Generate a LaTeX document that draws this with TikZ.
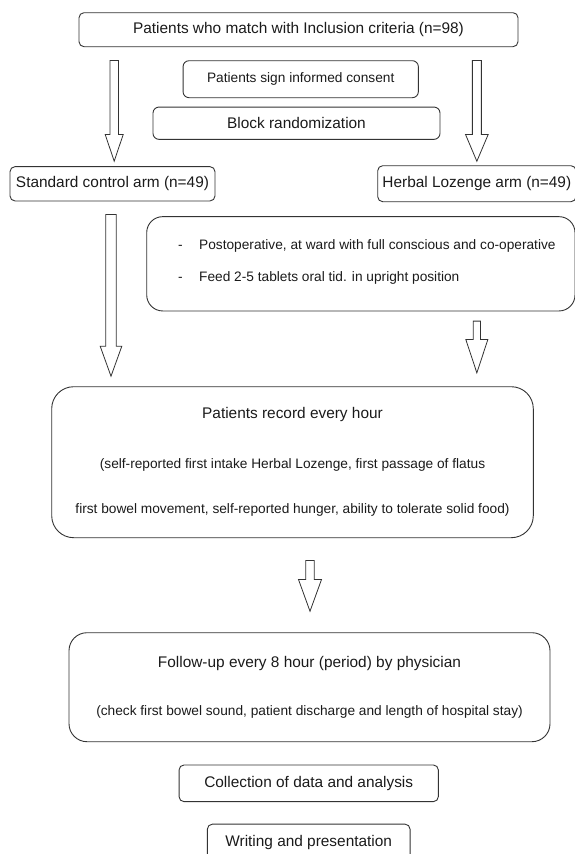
\documentclass[tikz,border=0pt]{standalone}
\usepackage{fontspec}
\setmainfont{Liberation Sans}
\usetikzlibrary{calc,positioning}

\newcommand{\bigsz}{\fontsize{15.4}{18}\selectfont}
\newcommand{\smallsz}{\fontsize{13.7}{16}\selectfont}
\definecolor{linegray}{HTML}{333333}
\definecolor{textgray}{HTML}{1A1A1A}

% hollow block arrow: start, tip, shaft half width, head half width, head length
\newcommand{\fatarrow}[5]{%
  \draw[fatline] ($(#1)+(-#3,0)$) -- ($(#2)+(-#3,-#5)$) -- ($(#2)+(-#4,-#5)$)
    -- (#2) -- ($(#2)+(#4,-#5)$) -- ($(#2)+(#3,-#5)$) -- ($(#1)+(#3,0)$) -- cycle;}

\tikzset{
  box/.style={draw=linegray, line width=0.9pt, rounded corners=5pt, inner sep=0pt,
    text=textgray, font=\bigsz},
  bigbox/.style={box, rounded corners=18pt, align=center},
  fatline/.style={draw=linegray, line width=0.8pt, fill=white, line join=miter}
}

\begin{document}
\begin{tikzpicture}[x=1pt, y=-1pt]
    \useasboundingbox (0,0) rectangle (575,854);

    \node[box, minimum width=439pt, minimum height=34pt] (top) at (298.5,29.7)
        {Patients who match with Inclusion criteria (n=98)};
    \node[box, font=\smallsz, minimum width=235.3pt, minimum height=37pt,
        rounded corners=6pt] (consent) at (300.7,79.2) {Patients sign informed consent};
    \node[box, minimum width=287pt, minimum height=32.3pt, rounded corners=6pt]
        (block) at (296.5,123.2) {Block randomization};

    % two arms
    \node[box, minimum width=205pt, minimum height=34.3pt] (std) at (112.5,183.8)
        {Standard control arm (n=49)};
    \node[box, minimum width=198.3pt, minimum height=36pt] (herbal) at (476.85,183.7)
        {Herbal Lozenge arm (n=49)};

    % lozenge instructions
    \node[bigbox, minimum width=428.3pt, minimum height=94.3pt, rounded corners=16pt]
        (postop) at (360.85,263.8) {};
    \node[anchor=west, align=left, inner sep=0pt, text=textgray,
        font=\fontsize{13.7}{32.6}\selectfont] (postoptxt) at (178,262)
        {\makebox[21pt][l]{-}Postoperative, at ward with full conscious and co-operative\\
         \makebox[21pt][l]{-}Feed 2-5 tablets oral tid. in upright position};

    % outcomes
    \node[bigbox, minimum width=481.6pt, minimum height=151pt, rounded corners=22pt,
        font=\fontsize{13.7}{45}\selectfont] (rec) at (292.5,462.2)
        {{\bigsz Patients record every hour}\\[5pt]
         (self-reported first intake Herbal Lozenge, first passage of flatus\\
         first bowel movement, self-reported hunger, ability to tolerate solid food)};
    \node[bigbox, minimum width=481pt, minimum height=109pt, rounded corners=18pt,
        font=\fontsize{13.7}{48.7}\selectfont] (fol) at (309.5,687.2)
        {{\bigsz Follow-up every 8 hour (period) by physician}\\
         (check first bowel sound, patient discharge and length of hospital stay)};

    \node[box, minimum width=259.3pt, minimum height=36.7pt] (col) at (308.7,783.3)
        {Collection of data and analysis};
    \node[box, minimum width=202.7pt, minimum height=36.7pt, below=21.6pt of col] (wri)
        {Writing and presentation};

    % block arrows
    \coordinate (a1s) at ($(top.south -| std.north)+(1.7,13.3)$);
    \coordinate (a1e) at ($(std.north)+(1.7,-5)$);
    \fatarrow{a1s}{a1e}{4.2}{9}{26.7}

    \coordinate (a2s) at ($(top.south -| herbal.north)+(0,13.3)$);
    \coordinate (a2e) at ($(herbal.north)+(0,-4)$);
    \fatarrow{a2s}{a2e}{4.5}{11.3}{26.7}

    \coordinate (a3s) at ($(std.south)+(-1.5,13)$);
    \coordinate (a3e) at ($(std.south |- rec.north)+(-1.5,-10)$);
    \fatarrow{a3s}{a3e}{5.3}{10.8}{30}

    \coordinate (a4s) at ($(postop.south -| herbal.north)+(0,9.7)$);
    \coordinate (a4e) at ($(herbal.north |- rec.north)+(0,-13.4)$);
    \fatarrow{a4s}{a4e}{3.7}{11}{33.3}

    \coordinate (a5s) at ($(rec.south -| fol.north)+(0.5,22.3)$);
    \coordinate (a5e) at ($(fol.north)+(0.5,-21)$);
    \fatarrow{a5s}{a5e}{4.2}{11.5}{31.7}

\end{tikzpicture}
\end{document}
